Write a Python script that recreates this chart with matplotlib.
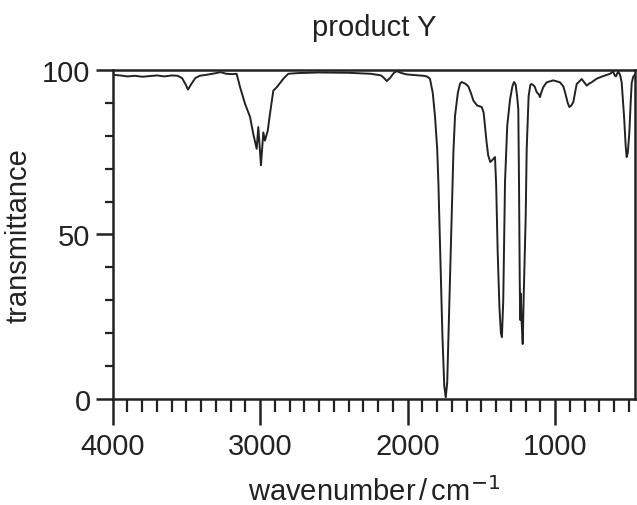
"""IR spectrum of product Y."""

import matplotlib
matplotlib.use("Agg")
import matplotlib.pyplot as plt
from matplotlib.ticker import MultipleLocator

plt.rcParams["font.family"] = ["Liberation Sans", "DejaVu Sans"]
plt.rcParams["mathtext.fontset"] = "custom"
plt.rcParams["mathtext.rm"] = "Liberation Sans"
plt.rcParams["mathtext.it"] = "Liberation Sans:italic"

# wavenumber (cm-1) and transmittance (%)
wavenumber = [
    4000, 3950, 3900, 3850, 3800, 3750, 3700, 3650, 3600, 3560,
    3530, 3505, 3490, 3470, 3440, 3410, 3350, 3300, 3270, 3230,
    3190, 3160, 3137, 3103, 3069, 3047, 3024, 3013, 2995, 2979,
    2968, 2949, 2934, 2911, 2888, 2843, 2810, 2750, 2600, 2400,
    2250, 2180, 2160, 2142, 2120, 2095, 2075, 2040, 2005, 1950,
    1895, 1870, 1849, 1830, 1815, 1800, 1792, 1780, 1765, 1752,
    1742, 1732, 1720, 1702, 1690, 1679, 1660, 1645, 1634, 1610,
    1589, 1570, 1555, 1530, 1498, 1485, 1476, 1465, 1454, 1440,
    1430, 1408, 1400, 1390, 1378, 1368, 1361, 1352, 1340, 1325,
    1306, 1290, 1279, 1268, 1258, 1250, 1245, 1240, 1237, 1233,
    1228, 1220, 1214, 1206, 1200, 1193, 1180, 1168, 1159, 1140,
    1125, 1110, 1103, 1095, 1081, 1058, 1013, 967, 945, 933,
    915, 904, 890, 877, 865, 854, 820, 800, 786, 770,
    753, 719, 680, 628, 607, 596, 588, 578, 572, 560,
    549, 533, 522, 515, 507, 497, 488, 481, 470, 458,
]
transmittance = [
    98.5, 98.3, 98.0, 98.2, 97.9, 98.1, 98.3, 98.0, 98.3, 98.2,
    97.5, 95.5, 94.0, 95.5, 97.5, 98.2, 98.6, 99.0, 99.3, 98.8,
    98.7, 98.8, 94.8, 89.7, 85.7, 80.5, 76.0, 82.6, 71.0, 81.0,
    78.5, 81.5, 86.6, 93.7, 94.7, 97.3, 98.8, 99.0, 99.2, 99.1,
    98.8, 98.3, 97.5, 96.6, 97.5, 99.0, 99.6, 99.0, 98.6, 98.4,
    98.2, 98.0, 97.3, 93.0, 86.0, 76.0, 66.0, 45.0, 20.0, 4.0,
    0.5, 5.0, 25.0, 55.7, 75.0, 86.0, 93.0, 95.8, 96.3, 95.8,
    95.0, 92.8, 90.7, 89.2, 88.7, 87.0, 83.0, 78.0, 74.0, 72.0,
    72.4, 73.5, 65.0, 45.0, 28.0, 20.0, 18.8, 30.0, 66.0, 83.0,
    91.0, 95.0, 96.3, 95.5, 92.0, 88.0, 65.0, 35.0, 24.0, 32.0,
    24.0, 16.7, 30.0, 45.0, 55.0, 76.0, 92.0, 95.5, 95.7, 95.0,
    93.2, 92.5, 91.7, 93.0, 94.7, 96.2, 96.8, 96.2, 95.0, 93.2,
    90.0, 88.7, 89.2, 90.2, 93.0, 95.7, 97.2, 96.0, 95.2, 95.8,
    96.2, 97.3, 98.0, 98.8, 99.5, 98.3, 98.0, 99.0, 99.5, 98.5,
    96.2, 86.0, 77.0, 73.5, 75.0, 81.0, 90.0, 96.0, 98.0, 98.5,
]

fig = plt.figure(figsize=(6.37, 5.06), dpi=100)
ax = fig.add_axes([0.177, 0.2095, 0.82, 0.6505])

ax.plot(wavenumber, transmittance, color="#222222", lw=1.4)

ax.set_xlim(4000, 458)
ax.set_ylim(0, 100)
ax.xaxis.set_major_locator(MultipleLocator(1000))
ax.xaxis.set_minor_locator(MultipleLocator(100))
ax.yaxis.set_major_locator(MultipleLocator(50))
ax.yaxis.set_minor_locator(MultipleLocator(10))

for side in ax.spines.values():
    side.set_linewidth(1.8)
    side.set_color("#222222")

ax.tick_params(axis="x", which="major", direction="out", length=19, width=1.8,
               labelsize=21, pad=5, colors="#222222")
ax.tick_params(axis="x", which="minor", direction="out", length=9.5, width=1.6,
               colors="#222222")
ax.tick_params(axis="y", which="major", direction="out", length=12, width=1.8,
               labelsize=21, pad=4, colors="#222222")
ax.tick_params(axis="y", which="minor", direction="out", length=6, width=1.6,
               colors="#222222")

ax.set_title("product Y", fontsize=21, color="#222222", pad=25)
ax.set_xlabel(r"wavenumber$\,$/$\,$cm$^{\mathsf{-1}}$", fontsize=21,
              color="#222222", labelpad=11)
ax.set_ylabel("transmittance", fontsize=21, color="#222222", labelpad=7)

fig.savefig("out.png", dpi=100)
